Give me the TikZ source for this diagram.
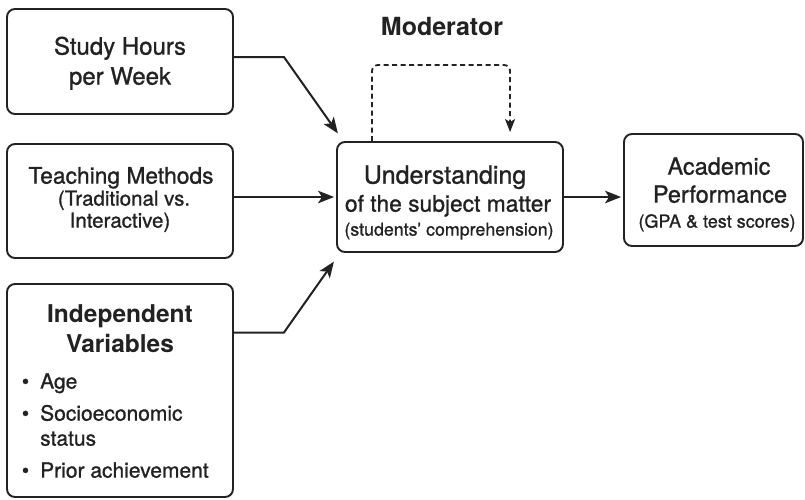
\documentclass[tikz,border=0pt]{standalone}
\usepackage{fontspec}
\setmainfont{TeX Gyre Heros}[UprightFeatures={FakeBold=1}]
\usetikzlibrary{arrows.meta}
\definecolor{ink}{HTML}{222222}
\newcommand{\fs}[1]{\fontsize{#1}{#1}\selectfont}
\begin{document}
\begin{tikzpicture}[x=1pt,y=-1pt,
  box/.style={draw=ink, line width=1.9pt, rounded corners=8pt, inner sep=0pt},
  arr/.style={draw=ink, line width=2pt, shorten >=2pt,
    -{Stealth[length=16pt,width=12.5pt,inset=4pt]}},
  dasharr/.style={draw=ink, line width=1.8pt, dash pattern=on 5pt off 3.5pt,
    rounded corners=6pt, -{Stealth[length=13pt,width=10pt,inset=3pt]}},
  txt/.style={text=ink, inner sep=0pt, anchor=mid}
]
\useasboundingbox (0,0) rectangle (805,499);
\fill[white] (0,0) rectangle (805,499);

% boxes
\node[box, minimum width=226pt, minimum height=105pt] (hours) at (120,61.5) {};
\node[box, minimum width=226pt, minimum height=114pt] (teach) at (120,201) {};
\node[box, minimum width=226pt, minimum height=213pt] (indep) at (120,390.5) {};
\node[box, minimum width=226pt, minimum height=110pt] (under) at (450,197) {};
\node[box, minimum width=179pt, minimum height=112pt] (acad) at (713.5,190) {};

% box texts
\node[txt, font=\fs{24}] (hoursA) at (120,52) {Study Hours};
\node[txt, font=\fs{24}] (hoursB) at (120,82) {per Week};

\node[txt, font=\fs{22.8}] (teachA) at (121,181) {Teaching Methods};
\node[txt, font=\fs{20.5}] (teachB) at (124,203) {(Traditional vs.};
\node[txt, font=\fs{20.5}] (teachC) at (120,225) {Interactive)};

\node[txt, font=\fs{24.5}\bfseries] (indepA) at (120,320) {Independent};
\node[txt, font=\fs{24.5}\bfseries] (indepB) at (120,350) {Variables};
\foreach \nm/\yy/\tx in {ia/386/Age, ib/418/Socioeconomic, ic/443/status, id/475/Prior achievement}{
  \node[txt, font=\fs{21}, anchor=mid west] (\nm) at (40,\yy) {\tx};
}
\foreach \nm/\yy in {ba/386, bb/418, bd/475}{
  \node[txt, font=\fs{21}] (\nm) at (25.5,\yy) {\textbullet};
}

\node[txt, font=\fs{25}] (underA) at (445,181) {Understanding};
\node[txt, font=\fs{22.8}] (underB) at (448,209) {of the subject matter};
\node[txt, font=\fs{17.8}] (underC) at (449,233) {(students' comprehension)};

\node[txt, font=\fs{23.5}] (acadA) at (719,172) {Academic};
\node[txt, font=\fs{23.5}] (acadB) at (720,200) {Performance};
\node[txt, font=\fs{18}] (acadC) at (717,225) {(GPA \& test scores)};

% moderator label
\node[txt, font=\fs{25}\bfseries] (mod) at (442,33) {Moderator};

% connectors
\draw[arr] ([shift={(0,-4.5)}]hours.east) -- ++(50,0)
  -- ([shift={(3,-6)}]under.north west);
\draw[arr] (teach.east |- under.west) -- (under.west);
\draw[arr] ([shift={(0,-58)}]indep.east) -- ++(50,0)
  -- ([shift={(-1,7)}]under.south west);
\draw[arr] (under.east) -- (under.east -| acad.west);
\coordinate (modstart) at ([shift={(36,0)}]under.north west);
\coordinate (modend) at ([shift={(174,-9)}]under.north west);
\draw[dasharr] (modstart) -- (modstart |- 0,65) -- (modend |- 0,65) -- (modend);
\end{tikzpicture}
\end{document}
